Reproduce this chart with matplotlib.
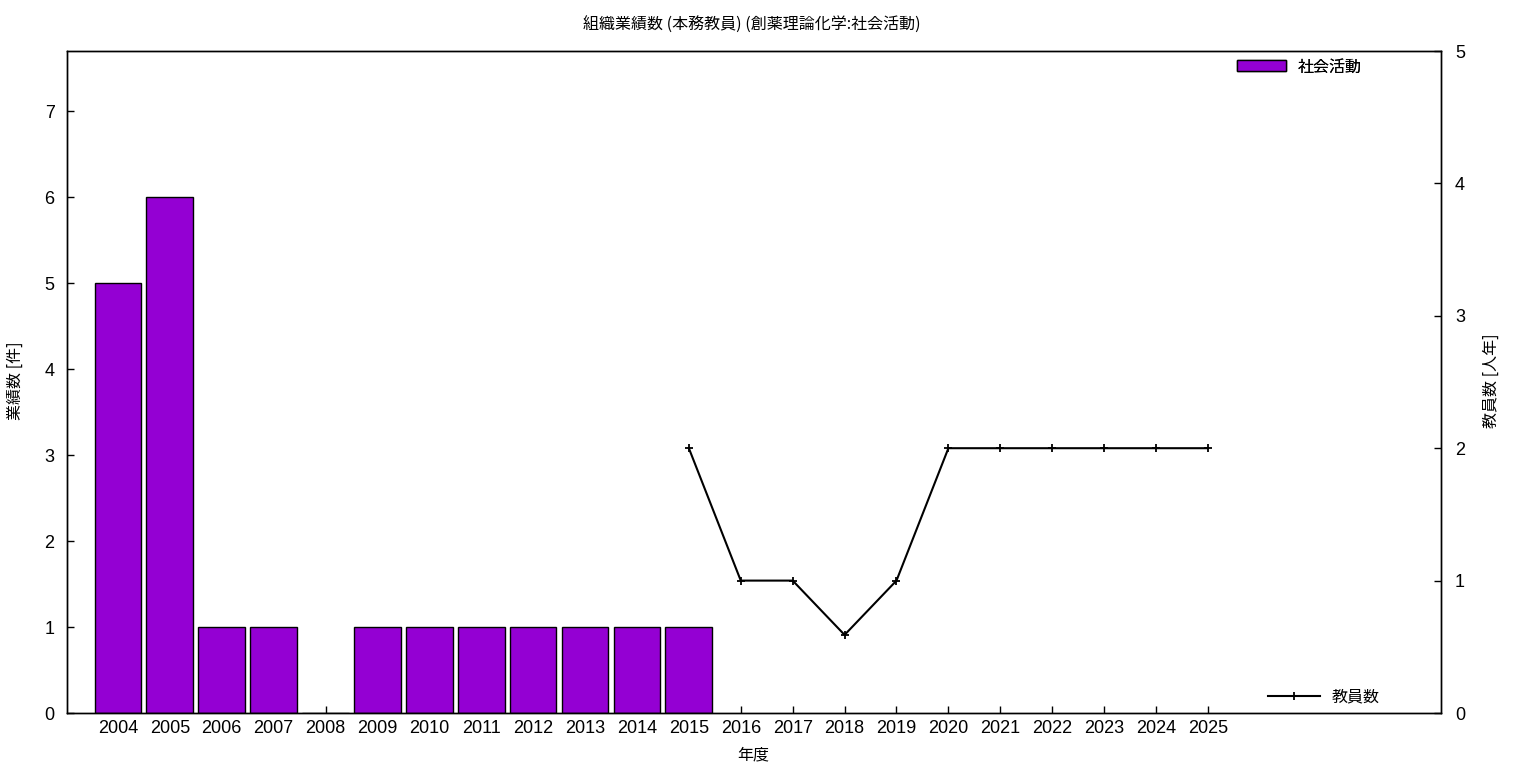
import matplotlib
matplotlib.use("Agg")
import matplotlib.pyplot as plt
from matplotlib.patches import Patch
from matplotlib.lines import Line2D

plt.rcParams['font.family'] = ['Liberation Sans', 'Noto Sans CJK JP', 'DejaVu Sans']

years = list(range(2004, 2026))
bar_years = [2004, 2005, 2006, 2007, 2008, 2009, 2010, 2011, 2012, 2013, 2014, 2015]
bar_values = [5, 6, 1, 1, 0, 1, 1, 1, 1, 1, 1, 1]
line_years = [2015, 2016, 2017, 2018, 2019, 2020, 2021, 2022, 2023, 2024, 2025]
line_values = [2, 1, 1, 0.59, 1, 2, 2, 2, 2, 2, 2]

title = "組織業績数 (本務教員) (創薬理論化学:社会活動)"
bar_label = "社会活動"
line_label = "教員数"
xlabel = "年度"
ylabel_left = "業績数 [件]"
ylabel_right = "教員数 [人年]"

fig = plt.figure(figsize=(15.36, 7.68), dpi=100)
ax = fig.add_axes([67/1536, 55/768, (1441-67)/1536, (713-51)/768])
ax2 = ax.twinx()

ax.bar(bar_years, bar_values, width=0.9, color='#9400D3', edgecolor='black', linewidth=1, zorder=2)
ax2.plot(line_years, line_values, color='black', linewidth=1.5, marker='+', markersize=6,
         markeredgewidth=1.3, zorder=3)

ax.set_xlim(2003.02, 2029.49)
ax.set_ylim(0, 7.7)
ax2.set_ylim(0, 5)
ax.set_xticks(years)
ax.set_xticklabels([str(y) for y in years])
ax.set_yticks(range(0, 8))
ax2.set_yticks(range(0, 6))

ax.tick_params(axis='x', direction='in', length=5, width=1, labelsize=13, pad=5, top=False)
ax.tick_params(axis='y', direction='in', length=5, width=1, labelsize=13, pad=9, right=False)
ax2.tick_params(axis='y', direction='in', length=5, width=1, labelsize=13, pad=10)

for a in (ax, ax2):
    for s in a.spines.values():
        s.set_linewidth(1)

fig.text(752/1536, 1 - 25/768, title, ha='center', va='center', fontsize=11.5,
         family=['Noto Sans CJK JP', 'DejaVu Sans'])
fig.text(753/1536, 1 - 755/768, xlabel, ha='center', va='center', fontsize=11.5,
         family=['Noto Sans CJK JP', 'DejaVu Sans'])
fig.text(15/1536, 1 - 381/768, ylabel_left, ha='center', va='center', rotation=90, fontsize=11.5,
         family=['Noto Sans CJK JP', 'DejaVu Sans'])
fig.text(1491/1536, 1 - 381/768, ylabel_right, ha='center', va='center', rotation=90, fontsize=11.5,
         family=['Noto Sans CJK JP', 'DejaVu Sans'])

leg1 = ax.legend(handles=[Patch(facecolor='#9400D3', edgecolor='black', linewidth=1)],
                 labels=[bar_label], loc='center left', bbox_to_anchor=(0.8515, 0.976),
                 frameon=False, borderpad=0, borderaxespad=0, handlelength=3.1,
                 handleheight=0.65, handletextpad=0.7,
                 prop={'family': ['Noto Sans CJK JP'], 'size': 11.5})
ax.add_artist(leg1)
leg2 = ax2.legend(handles=[Line2D([0], [0], color='black', linewidth=1.5, marker='+',
                                  markersize=6, markeredgewidth=1.3)],
                  labels=[line_label], loc='center left', bbox_to_anchor=(0.874, 0.0242),
                  frameon=False, borderpad=0, borderaxespad=0, handlelength=3.25,
                  handletextpad=0.75, prop={'family': ['Noto Sans CJK JP'], 'size': 11.5})

fig.savefig('out.png', dpi=100)
